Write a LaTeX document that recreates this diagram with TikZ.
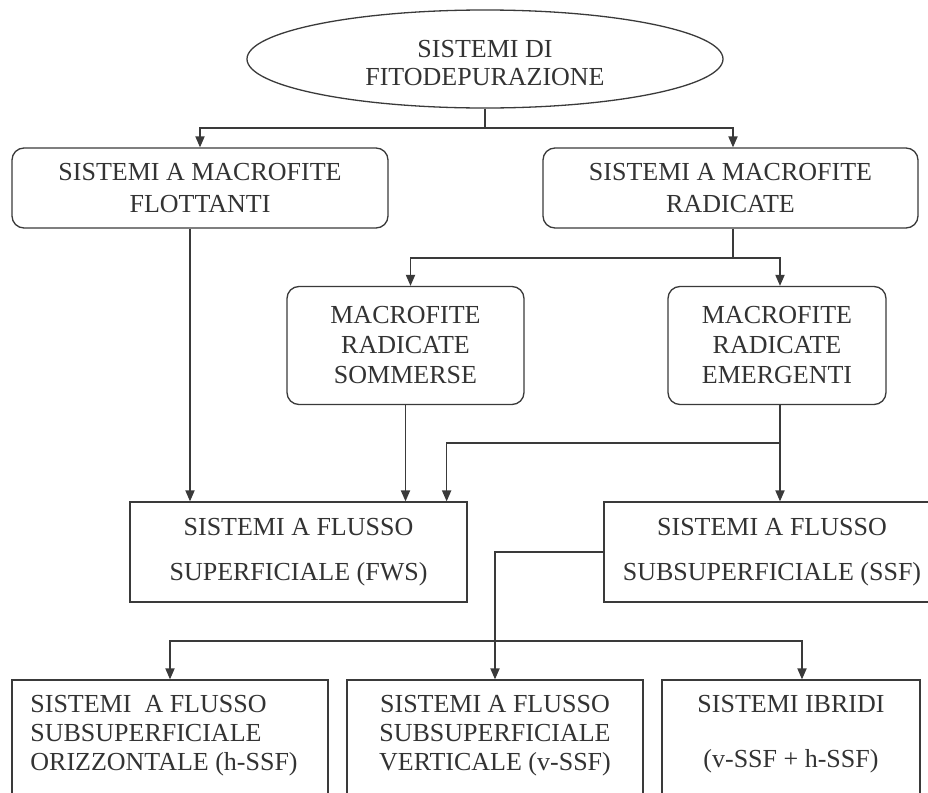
\documentclass[tikz,border=0pt]{standalone}
\usepackage{fontspec}
\setmainfont{Liberation Serif}
\usetikzlibrary{shapes.geometric,arrows.meta,calc}
\definecolor{ink}{HTML}{3A3A3A}
\definecolor{txt}{HTML}{333333}
\begin{document}
\begin{tikzpicture}[x=0.5pt,y=-0.5pt,
  f/.style={font=\fontsize{13}{#1}\selectfont},
  box/.style={draw=ink, line width=0.65pt, text=txt, align=center, inner sep=0pt},
  rbox/.style={box, rounded corners=6pt},
  ln/.style={draw=ink, line width=0.65pt},
  arr/.style={draw=ink, line width=0.65pt, -{Triangle[length=5.5pt,width=4.6pt]}},
  lbl/.style={text=txt, inner sep=0pt}]
\useasboundingbox (0,0) rectangle (928,793);
\clip (0,0) rectangle (928,793);

% nodes
\node[draw=ink, line width=0.65pt, ellipse, minimum width=238pt, minimum height=49pt,
      inner sep=0pt] (ell) at (485,59) {};
\node[lbl, align=center, f=14pt] (tell) at (485,63) {SISTEMI DI\\FITODEPURAZIONE};
\node[rbox, f=16pt, minimum width=188pt, minimum height=40pt] (b1) at (200,188) {SISTEMI A MACROFITE\\FLOTTANTI};
\node[rbox, f=16pt, minimum width=187.5pt, minimum height=40pt] (b2) at (730.5,188) {SISTEMI A MACROFITE\\RADICATE};
\node[rbox, f=15pt, minimum width=118.5pt, minimum height=59pt] (b3) at (405.5,345.5) {MACROFITE\\RADICATE\\SOMMERSE};
\node[rbox, f=15pt, minimum width=109pt, minimum height=59pt] (b4) at (777,345.5) {MACROFITE\\RADICATE\\EMERGENTI};
\node[box, f=22.5pt, minimum width=168.5pt, minimum height=50pt] (fws) at (298.5,552) {SISTEMI A FLUSSO\\SUPERFICIALE (FWS)};
\node[box, f=22.5pt, minimum width=168pt, minimum height=50pt] (ssf) at (772,552) {SISTEMI A FLUSSO\\SUBSUPERFICIALE (SSF)};

\node[box, minimum width=158pt, minimum height=75pt] (bA) at (170,755) {};
\node[box, minimum width=148pt, minimum height=75pt] (bB) at (495,755) {};
\node[box, minimum width=129pt, minimum height=75pt] (bC) at (791,755) {};
\node[lbl, f=14.5pt, align=left, anchor=north west] (tA) at (30,695) {SISTEMI\ \ A FLUSSO\\SUBSUPERFICIALE\\ORIZZONTALE (h-SSF)};
\node[lbl, f=14.5pt, align=center, anchor=north] (tB) at (495,695) {SISTEMI A FLUSSO\\SUBSUPERFICIALE\\VERTICALE (v-SSF)};
\node[lbl, f=14.5pt, align=center, anchor=north] (tC) at (791,695) {SISTEMI IBRIDI\\[13pt](v-SSF + h-SSF)};

% helper levels
\coordinate (h1) at (0,128);
\coordinate (h2) at (0,258);
\coordinate (h3) at (0,443);
\coordinate (h4) at (0,641);

% connectors
\coordinate (j1) at (ell.south |- h1);
\draw[ln] (ell.south) -- (j1);
\draw[arr] (j1) -| (b1.north);
\coordinate (b2in) at ($(b2.north)+(2.5,0)$);
\draw[arr] (j1) -| (b2in);

\coordinate (b2out) at ($(b2.south)+(2.5,0)$);
\coordinate (j2) at (b2out |- h2);
\draw[ln] (b2out) -- (j2);
\coordinate (b3in) at ($(b3.north)+(5,0)$);
\draw[arr] (j2) -| (b3in);
\coordinate (b4in) at ($(b4.north)+(3,0)$);
\draw[arr] (j2) -| (b4in);

\coordinate (b1out) at ($(b1.south)+(-10,0)$);
\draw[arr] (b1out) -- (b1out |- fws.north);
\draw[arr] (b3.south) -- (b3.south |- fws.north);
\coordinate (b4out) at ($(b4.south)+(3,0)$);
\draw[arr] (b4out) -- (b4out |- ssf.north);
\coordinate (j3) at (b4out |- h3);
\coordinate (fwsin) at ($(fws.north east)+(-21,0)$);
\draw[arr] (j3) -| (fwsin);

\coordinate (j4) at (bB.north |- h4);
\draw[ln] (ssf.west) -| (j4);
\draw[arr] (j4) -- (bB.north);
\draw[arr] (j4) -| (bA.north);
\coordinate (bCin) at ($(bC.north)+(11,0)$);
\draw[arr] (j4) -| (bCin);
\end{tikzpicture}
\end{document}
